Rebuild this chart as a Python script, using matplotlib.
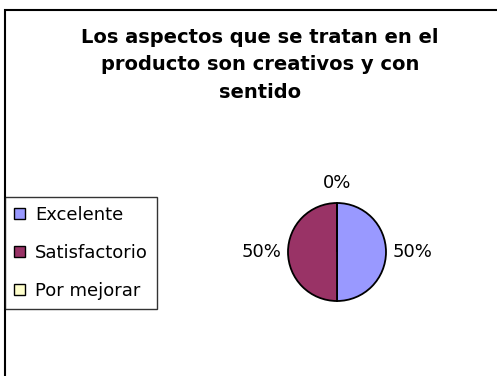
import numpy as np
import matplotlib.pyplot as plt
from matplotlib.patches import Patch, Rectangle

categories = ["Excelente", "Satisfactorio", "Por mejorar"]
values = [50, 50, 0]
colors = ["#9999FF", "#993366", "#FFFFCC"]
title = "Los aspectos que se tratan en el\nproducto son creativos y con\nsentido"

W, H = 497, 376
fig = plt.figure(figsize=(W / 100, H / 100), dpi=100)
plt.rcParams['font.family'] = ['DejaVu Sans']

# outer chart frame (cropped at right and bottom)
fig.patches.append(Rectangle((5 / W, -0.1), 1.2, 1 - 10 / H + 0.1, transform=fig.transFigure,
                             fill=False, edgecolor='black', linewidth=1.5))

fig.text(260 / W, 1 - 65 / H, title, ha='center', va='center', fontsize=14,
         fontweight='bold', linespacing=1.58)

# pie axes: center (337, 252) px, radius 49 px
cx, cy, r = 337, 252, 49
half = 100
ax = fig.add_axes([(cx - half) / W, 1 - (cy + half) / H, 2 * half / W, 2 * half / H])
wedges, texts, autotexts = ax.pie(values, colors=colors, startangle=90, counterclock=False,
                                  autopct='%d%%', pctdistance=1.0,
                                  wedgeprops=dict(edgecolor='black', linewidth=1.3),
                                  textprops=dict(fontsize=13))
# push labels just outside the pie edge, aligned away from it
for w, t in zip(wedges, autotexts):
    ang = np.deg2rad((w.theta1 + w.theta2) / 2)
    c, s = np.cos(ang), np.sin(ang)
    if abs(c) > 0.5:
        t.set_position((1.13 * c, 1.13 * s))
        t.set_ha('left' if c > 0 else 'right')
        t.set_va('center')
    else:
        t.set_position((1.12 * c, 1.22 * s))
        t.set_ha('center')
        t.set_va('bottom' if s > 0 else 'top')
lim = half / r
ax.set_xlim(-lim, lim)
ax.set_ylim(-lim, lim)
ax.set_aspect('equal')

handles = [Patch(facecolor=c, edgecolor='black', linewidth=1) for c in colors]
leg = fig.legend(handles, categories, loc='upper left', bbox_to_anchor=(5 / W, 1 - 197 / H),
                 fontsize=13, frameon=True, fancybox=False, handlelength=0.6, handleheight=0.6,
                 handletextpad=0.55, labelspacing=1.1, borderpad=0.5, borderaxespad=0)
leg.get_frame().set_edgecolor('black')
leg.get_frame().set_linewidth(1)

fig.savefig("out.png", dpi=100)
